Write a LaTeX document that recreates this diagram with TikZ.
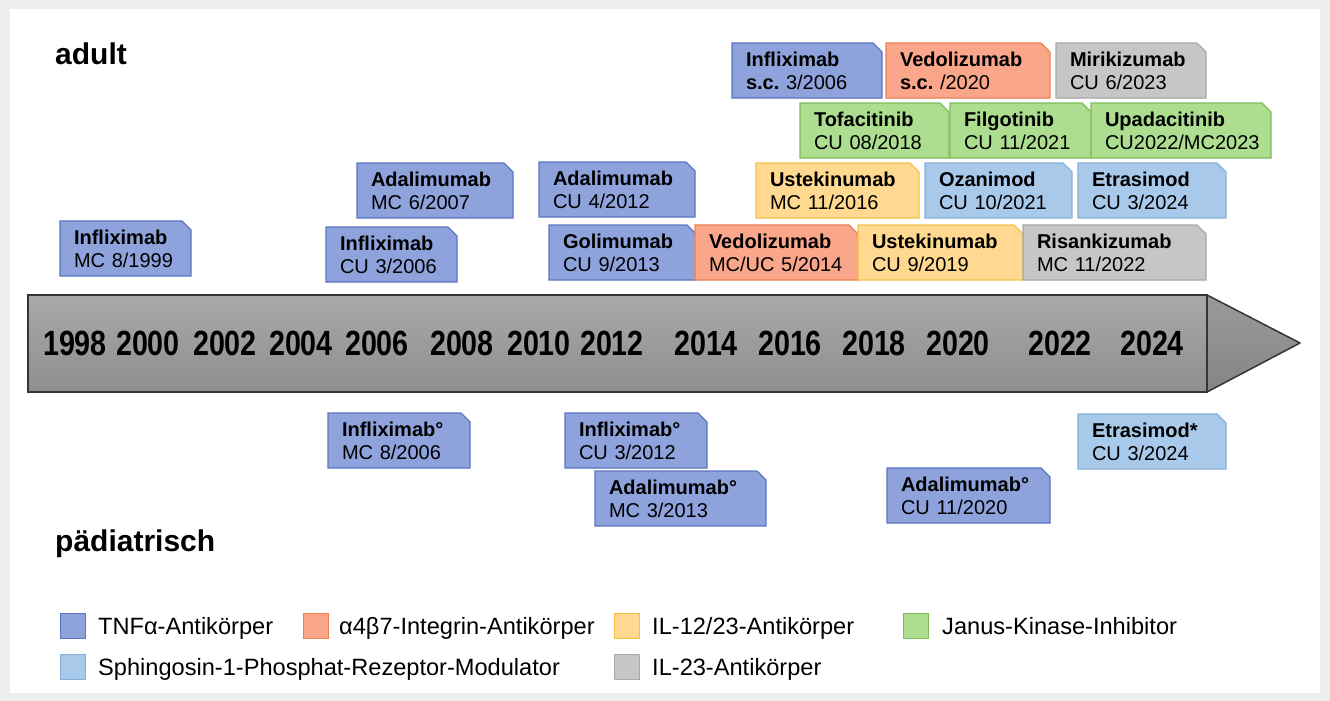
\documentclass[tikz,border=0pt]{standalone}
\usepackage{fontspec}
\setmainfont{Liberation Sans}
\newfontfamily\yearfont[FakeStretch=0.82]{Liberation Sans}
\usetikzlibrary{positioning}
\frenchspacing
\definecolor{framegray}{HTML}{EEEEEE}
\definecolor{arrowtop}{HTML}{A9A9A9}
\definecolor{arrowbot}{HTML}{8E8E8E}
\definecolor{tiptop}{HTML}{9A9A9A}
\definecolor{tipbot}{HTML}{858585}
\definecolor{arrowline}{HTML}{353535}
\definecolor{tnffill}{HTML}{8EA2DC}
\definecolor{tnfdraw}{HTML}{5B74C4}
\definecolor{abfill}{HTML}{F9A68A}
\definecolor{abdraw}{HTML}{EE8050}
\definecolor{ilfill}{HTML}{FFD98F}
\definecolor{ildraw}{HTML}{F7C04A}
\definecolor{jakfill}{HTML}{ADDE90}
\definecolor{jakdraw}{HTML}{7DBE5A}
\definecolor{sipfill}{HTML}{A9C9EA}
\definecolor{sipdraw}{HTML}{86B0DC}
\definecolor{ilzfill}{HTML}{C6C6C6}
\definecolor{ilzdraw}{HTML}{A8A8A8}
% rectangle with the upper right corner cut off
\makeatletter
\pgfdeclareshape{snipbox}{%
  \inheritsavedanchors[from=rectangle]%
  \inheritanchorborder[from=rectangle]%
  \inheritanchor[from=rectangle]{center}%
  \inheritanchor[from=rectangle]{north}%
  \inheritanchor[from=rectangle]{south}%
  \inheritanchor[from=rectangle]{east}%
  \inheritanchor[from=rectangle]{west}%
  \inheritanchor[from=rectangle]{north east}%
  \inheritanchor[from=rectangle]{north west}%
  \inheritanchor[from=rectangle]{south east}%
  \inheritanchor[from=rectangle]{south west}%
  \inheritanchor[from=rectangle]{base}%
  \inheritanchor[from=rectangle]{base west}%
  \inheritanchor[from=rectangle]{base east}%
  \inheritanchor[from=rectangle]{text}%
  \backgroundpath{%
    \southwest \pgf@xa=\pgf@x \pgf@ya=\pgf@y
    \northeast \pgf@xb=\pgf@x \pgf@yb=\pgf@y
    \pgf@xc=\pgf@xb \advance\pgf@xc by -9pt
    \pgf@yc=\pgf@yb \advance\pgf@yc by -9pt
    \pgfpathmoveto{\pgfqpoint{\pgf@xa}{\pgf@ya}}%
    \pgfpathlineto{\pgfqpoint{\pgf@xa}{\pgf@yb}}%
    \pgfpathlineto{\pgfqpoint{\pgf@xc}{\pgf@yb}}%
    \pgfpathlineto{\pgfqpoint{\pgf@xb}{\pgf@yc}}%
    \pgfpathlineto{\pgfqpoint{\pgf@xb}{\pgf@ya}}%
    \pgfpathclose
  }%
}
\makeatother
\tikzset{
  drugbox/.style={snipbox,line width=1.3pt,outer sep=0pt,
                  minimum height=55pt,inner xsep=14pt,inner ysep=4pt,
                  align=left,anchor=north west,font=\fontsize{20}{23}\selectfont},
  bw/.code={\pgfmathsetlengthmacro\bwtext{#1-28}\tikzset{minimum width=#1pt,text width=\bwtext}},
  tnf/.style={drugbox,draw=tnfdraw,fill=tnffill},
  intg/.style={drugbox,draw=abdraw,fill=abfill},
  iltw/.style={drugbox,draw=ildraw,fill=ilfill},
  jak/.style={drugbox,draw=jakdraw,fill=jakfill},
  sip/.style={drugbox,draw=sipdraw,fill=sipfill},
  ilz/.style={drugbox,draw=ilzdraw,fill=ilzfill},
  yearlbl/.style={font=\yearfont\bfseries\fontsize{35}{35}\selectfont,inner sep=0pt},
  heading/.style={font=\bfseries\fontsize{30}{30}\selectfont,inner sep=0pt,anchor=base west},
  legsq/.style={minimum size=25pt,inner sep=0pt,line width=1pt},
  legtxt/.style={font=\fontsize{23.6}{26}\selectfont,inner sep=0pt,anchor=base west}
}
\begin{document}
\begin{tikzpicture}[x=1pt,y=-1pt]
  \useasboundingbox (0,0) rectangle (1330,701);
  \fill[framegray] (0,0) rectangle (1330,701);
  \fill[white] (10,9) rectangle (1320,693);

  % timeline
  \shadedraw[top color=arrowtop,bottom color=arrowbot,draw=arrowline,line width=1.5pt]
    (28,295) rectangle (1207,392);
  \shadedraw[top color=tiptop,bottom color=tipbot,draw=arrowline,line width=1.5pt,line join=round]
    (1207,295) -- (1300,343) -- (1207,392) -- cycle;
  \foreach \yr/\xx in {1998/75,2000/148,2002/225,2004/301,2006/377,2008/462,2010/539,
                       2012/612,2014/706,2016/790,2018/874,2020/958,2022/1060,2024/1152}
    \node[yearlbl] (y\yr) at (\xx,343) {\yr};

  \node[heading] (adult) at (55,65) {adult};
  \node[heading] (paed) at (55,551) {pädiatrisch};

  % adult approvals
  \node[tnf,bw=150] (inflSC) at (732,43) {\textbf{Infliximab}\\\textbf{s.c.} 3/2006};
  \node[intg,bw=164] (vedoSC) at (886,43) {\textbf{Vedolizumab}\\\textbf{s.c.} /2020};
  \node[ilz,bw=150] (miriCU) at (1056,43) {\textbf{Mirikizumab}\\CU 6/2023};

  \node[jak,bw=149] (tofaCU) at (800,103) {\textbf{Tofacitinib}\\CU 08/2018};
  \node[jak,bw=141] (filgCU) at (950,103) {\textbf{Filgotinib}\\CU 11/2021};
  \node[jak,bw=180] (upadCU) at (1091,103) {\textbf{Upadacitinib}\\CU2022/MC2023};

  \node[tnf,bw=156] (adalMC) at (357,163) {\textbf{Adalimumab}\\MC 6/2007};
  \node[tnf,bw=156] (adalCU) at (539,162) {\textbf{Adalimumab}\\CU 4/2012};
  \node[iltw,bw=163] (ustMC) at (756,163) {\textbf{Ustekinumab}\\MC 11/2016};
  \node[sip,bw=147] (ozanCU) at (925,163) {\textbf{Ozanimod}\\CU 10/2021};
  \node[sip,bw=148] (etraCU) at (1078,163) {\textbf{Etrasimod}\\CU 3/2024};

  \node[tnf,bw=131] (inflMC) at (60,221) {\textbf{Infliximab}\\MC 8/1999};
  \node[tnf,bw=131] (inflCU) at (326,227) {\textbf{Infliximab}\\CU 3/2006};
  \node[tnf,bw=147] (goliCU) at (549,225) {\textbf{Golimumab}\\CU 9/2013};
  \node[intg,bw=163] (vedoMC) at (695,225) {\textbf{Vedolizumab}\\MC/UC 5/2014};
  \node[iltw,bw=165] (ustCU) at (858,225) {\textbf{Ustekinumab}\\CU 9/2019};
  \node[ilz,bw=183] (risaMC) at (1023,225) {\textbf{Risankizumab}\\MC 11/2022};

  % paediatric approvals
  \node[tnf,bw=142] (pInflMC) at (328,413) {\textbf{Infliximab°}\\MC 8/2006};
  \node[tnf,bw=142] (pInflCU) at (565,413) {\textbf{Infliximab°}\\CU 3/2012};
  \node[tnf,bw=171] (pAdalMC) at (595,471) {\textbf{Adalimumab°}\\MC 3/2013};
  \node[tnf,bw=163] (pAdalCU) at (887,468) {\textbf{Adalimumab°}\\CU 11/2020};
  \node[sip,bw=148] (pEtraCU) at (1078,414) {\textbf{Etrasimod*}\\CU 3/2024};

  % legend
  \node[legsq,draw=tnfdraw,fill=tnffill] (lgTnf) at (73,626) {};
  \node[legtxt] (ltTnf) at ([xshift=12pt,yshift=-8.4pt]lgTnf.east) {TNFα-Antikörper};
  \node[legsq,draw=abdraw,fill=abfill] (lgIntg) at (316,626) {};
  \node[legtxt] (ltIntg) at ([xshift=10pt,yshift=-8.4pt]lgIntg.east) {α4β7-Integrin-Antikörper};
  \node[legsq,draw=ildraw,fill=ilfill] (lgIltw) at (627,626) {};
  \node[legtxt] (ltIltw) at ([xshift=12pt,yshift=-8.4pt]lgIltw.east) {IL-12/23-Antikörper};
  \node[legsq,draw=jakdraw,fill=jakfill] (lgJak) at (916,626) {};
  \node[legtxt] (ltJak) at ([xshift=13pt,yshift=-8.4pt]lgJak.east) {Janus-Kinase-Inhibitor};
  \node[legsq,draw=sipdraw,fill=sipfill] (lgSip) at (73,667) {};
  \node[legtxt] (ltSip) at ([xshift=12pt,yshift=-8.4pt]lgSip.east) {Sphingosin-1-Phosphat-Rezeptor-Modulator};
  \node[legsq,draw=ilzdraw,fill=ilzfill] (lgIlz) at (627,667) {};
  \node[legtxt] (ltIlz) at ([xshift=12pt,yshift=-8.4pt]lgIlz.east) {IL-23-Antikörper};
\end{tikzpicture}
\end{document}
